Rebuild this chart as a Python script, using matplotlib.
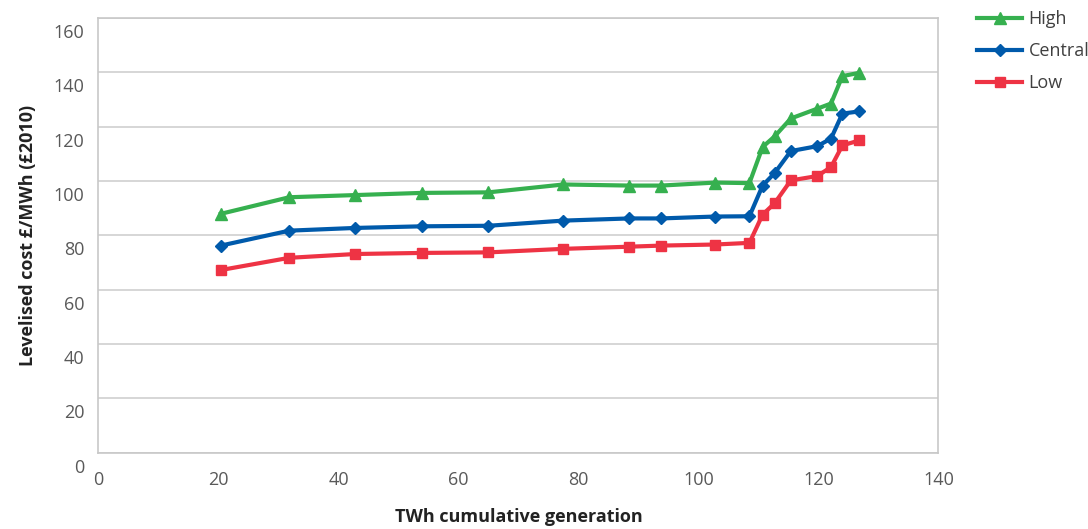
import matplotlib
matplotlib.use('Agg')
import matplotlib.pyplot as plt
import matplotlib.transforms as mtransforms

plt.rcParams['font.family'] = ['Open Sans', 'DejaVu Sans']

# TWh cumulative generation
twh = [20.4, 31.8, 42.8, 53.9, 65.0, 77.5, 88.5, 93.8, 102.8, 108.5,
       110.7, 112.7, 115.4, 119.8, 122.1, 124.0, 126.8]

# Levelised cost, GBP/MWh (2010 prices)
high = [87.9, 94.0, 94.8, 95.6, 95.8, 98.7, 98.3, 98.3, 99.4, 99.2,
        112.5, 116.4, 123.0, 126.6, 128.5, 138.6, 139.8]
central = [76.2, 81.7, 82.7, 83.3, 83.5, 85.4, 86.2, 86.2, 86.9, 87.0,
           98.3, 102.9, 111.0, 112.8, 115.6, 124.8, 125.6]
low = [67.2, 71.7, 73.1, 73.5, 73.7, 75.0, 75.8, 76.2, 76.6, 77.2,
       87.6, 91.8, 100.2, 101.8, 105.1, 113.1, 114.9]

x_ticks = [0, 20, 40, 60, 80, 100, 120, 140]
y_ticks = [0, 20, 40, 60, 80, 100, 120, 140, 160]

fig = plt.figure(figsize=(10.88, 5.29), dpi=100)
ax = fig.add_axes([0.0905, 0.1445, 0.772, 0.8215])

ax.plot(twh, high, color='#36b04f', marker='^', markersize=8, linewidth=3, label='High')
ax.plot(twh, central, color='#005aab', marker='D', markersize=6, linewidth=3, label='Central')
ax.plot(twh, low, color='#ee3344', marker='s', markersize=7, linewidth=3, label='Low')

ax.set_xlim(0, 140)
ax.set_ylim(0, 160)
ax.set_xticks(x_ticks)
ax.set_yticks(y_ticks)
ax.grid(axis='y', color='#cfcfcf', linewidth=1.2)
ax.set_axisbelow(True)
for s in ax.spines.values():
    s.set_color('#c8c8c8')
    s.set_linewidth(1.2)

ax.tick_params(length=0, labelsize=13, labelcolor='#595959')
ax.tick_params(axis='y', pad=10)
ax.tick_params(axis='x', pad=13)

# y labels sit a bit below their gridlines in the original
offset = mtransforms.ScaledTranslation(0, -13 / 100, fig.dpi_scale_trans)
for lbl in ax.get_yticklabels():
    lbl.set_transform(lbl.get_transform() + offset)

ax.set_xlabel('TWh cumulative generation', fontsize=13, fontweight='bold',
              color='#222222', labelpad=14)
ax.set_ylabel('Levelised cost £/MWh (£2010)', fontsize=13, fontweight='bold',
              color='#222222', labelpad=12)

ax.legend(loc='upper left', bbox_to_anchor=(1.046, 1.018), frameon=False,
          borderpad=0, borderaxespad=0,
          fontsize=13, labelcolor='#404040', handlelength=2.5,
          labelspacing=0.78, handletextpad=0.35)

plt.savefig('out.png')
